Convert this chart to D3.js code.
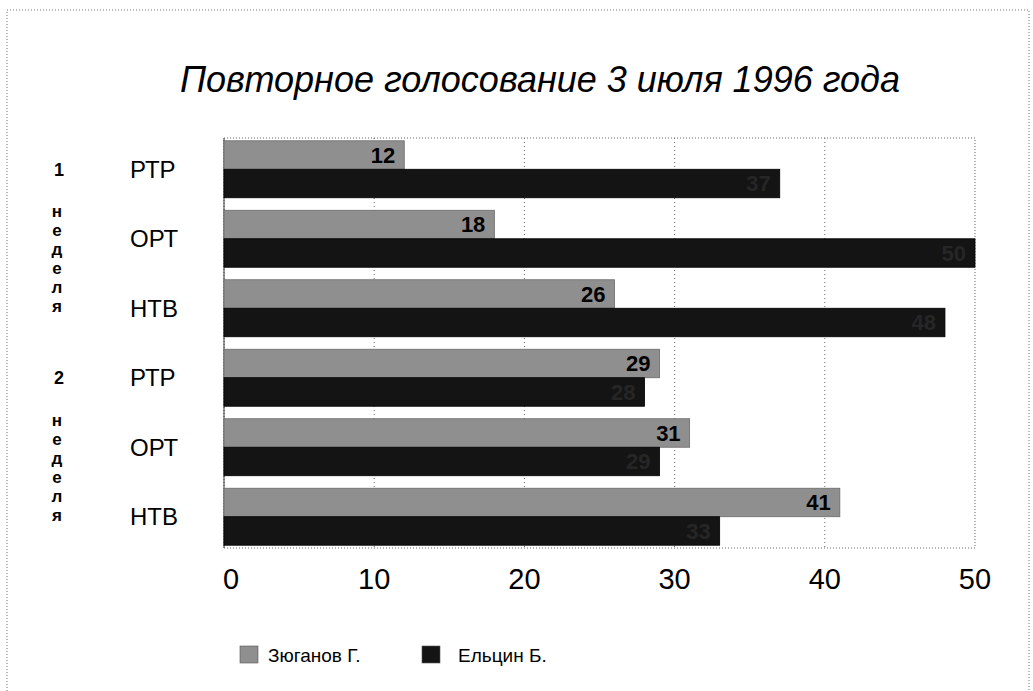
<!DOCTYPE html>
<html>
<head>
<meta charset="utf-8">
<script src="https://cdn.jsdelivr.net/npm/d3@7"></script>
<style>
  body { margin: 0; background: #fff; }
  text { font-family: "Liberation Sans", Arial, sans-serif; }
</style>
</head>
<body>
<svg id="chart"></svg>
<script>
// data
const channels = ["РТР", "ОРТ", "НТВ", "РТР", "ОРТ", "НТВ"];
const weeks = ["1", "2"];
const series = ["Зюганов Г.", "Ельцин Б."];
const zyuganov = [12, 18, 26, 29, 31, 41];
const yeltsin = [37, 50, 48, 28, 29, 33];
const xTicks = [0, 10, 20, 30, 40, 50];
const weekWord = ["н", "е", "д", "е", "л", "я"];

const width = 1033, height = 691;
const margin = { top: 138, right: 58, bottom: 143, left: 224 };
const colors = ["#8f8f8f", "#141414"];

const svg = d3.select("#chart")
  .attr("width", width)
  .attr("height", height);

// outer dotted frame of the scan
svg.append("rect")
  .attr("x", 7).attr("y", 10)
  .attr("width", 1022).attr("height", 700)
  .attr("fill", "none")
  .attr("stroke", "#777")
  .attr("stroke-width", 1)
  .attr("stroke-dasharray", "1,2");

const rows = channels.map((c, i) => ({ key: i, channel: c, values: [zyuganov[i], yeltsin[i]] }));

const x = d3.scaleLinear()
  .domain([0, 50])
  .range([margin.left, width - margin.right]);

const y = d3.scaleBand()
  .domain(rows.map(d => d.key))
  .range([margin.top, height - margin.bottom])
  .paddingInner(0.18)
  .paddingOuter(0.04);

const ySub = d3.scaleBand()
  .domain([0, 1])
  .range([0, y.bandwidth()]);

// gridlines
svg.append("g")
  .selectAll("line")
  .data(xTicks.slice(1, -1))
  .join("line")
  .attr("x1", d => x(d)).attr("x2", d => x(d))
  .attr("y1", margin.top).attr("y2", height - margin.bottom)
  .attr("stroke", "#666")
  .attr("stroke-width", 1)
  .attr("stroke-dasharray", "1,3");

// plot frame
svg.append("rect")
  .attr("x", margin.left).attr("y", margin.top)
  .attr("width", x(50) - x(0))
  .attr("height", height - margin.bottom - margin.top)
  .attr("fill", "none")
  .attr("stroke", "#666")
  .attr("stroke-dasharray", "1,2");
svg.append("line")
  .attr("x1", margin.left).attr("x2", margin.left)
  .attr("y1", margin.top).attr("y2", height - margin.bottom)
  .attr("stroke", "#333");

// bars
const groups = svg.append("g")
  .selectAll("g")
  .data(rows)
  .join("g")
  .attr("transform", d => `translate(0,${y(d.key)})`);

groups.selectAll("rect")
  .data(d => d.values.map((v, j) => ({ v, j })))
  .join("rect")
  .attr("x", x(0))
  .attr("y", d => ySub(d.j))
  .attr("width", d => x(d.v) - x(0))
  .attr("height", ySub.bandwidth())
  .attr("fill", d => colors[d.j])
  .attr("stroke", d => d.j === 0 ? "#6a6a6a" : "#000")
  .attr("stroke-width", 0.8);

// value labels
groups.selectAll("text.val")
  .data(d => d.values.map((v, j) => ({ v, j })))
  .join("text")
  .attr("class", "val")
  .attr("x", d => x(d.v) - 9)
  .attr("y", d => ySub(d.j) + ySub.bandwidth() / 2)
  .attr("dy", "0.36em")
  .attr("text-anchor", "end")
  .attr("font-size", 22)
  .attr("font-weight", "bold")
  .attr("fill", d => d.j === 0 ? "#000" : "#262626")
  .text(d => d.v);

// category labels
svg.append("g")
  .selectAll("text")
  .data(rows)
  .join("text")
  .attr("x", 130)
  .attr("y", d => y(d.key) + y.bandwidth() / 2)
  .attr("dy", "0.36em")
  .attr("font-size", 24)
  .attr("fill", "#000")
  .text(d => d.channel);

// week labels: number + vertical word
weeks.forEach((w, k) => {
  const y0 = y(k * 3) + y.bandwidth() / 2;
  svg.append("text")
    .attr("x", 59).attr("y", y0)
    .attr("dy", "0.36em")
    .attr("text-anchor", "middle")
    .attr("font-size", 18)
    .attr("font-weight", "bold")
    .text(w);
  svg.append("g")
    .selectAll("text")
    .data(weekWord)
    .join("text")
    .attr("x", 57)
    .attr("y", (d, i) => y0 + 42 + i * 19)
    .attr("dy", "0.36em")
    .attr("text-anchor", "middle")
    .attr("font-size", 17)
    .attr("font-weight", "bold")
    .text(d => d);
});

// x axis labels
svg.append("g")
  .selectAll("text")
  .data(xTicks)
  .join("text")
  .attr("x", d => x(d) + (d === 0 ? 7 : 0))
  .attr("y", 589)
  .attr("text-anchor", "middle")
  .attr("font-size", 29)
  .attr("fill", "#000")
  .text(d => d);

// title
svg.append("text")
  .attr("x", 540)
  .attr("y", 92)
  .attr("text-anchor", "middle")
  .attr("font-size", 36)
  .attr("font-style", "italic")
  .attr("fill", "#000")
  .text("Повторное голосование 3 июля 1996 года");

// legend
const legendX = [240, 422];
const legend = svg.append("g")
  .selectAll("g")
  .data(series)
  .join("g")
  .attr("transform", (d, i) => `translate(${legendX[i]},646)`);
legend.append("rect")
  .attr("width", 18).attr("height", 17)
  .attr("fill", (d, i) => colors[i])
  .attr("stroke", "#555")
  .attr("stroke-width", 0.6);
legend.append("text")
  .attr("x", (d, i) => i === 0 ? 28 : 36)
  .attr("y", 9)
  .attr("dy", "0.36em")
  .attr("font-size", 19)
  .text(d => d);
</script>
</body>
</html>
